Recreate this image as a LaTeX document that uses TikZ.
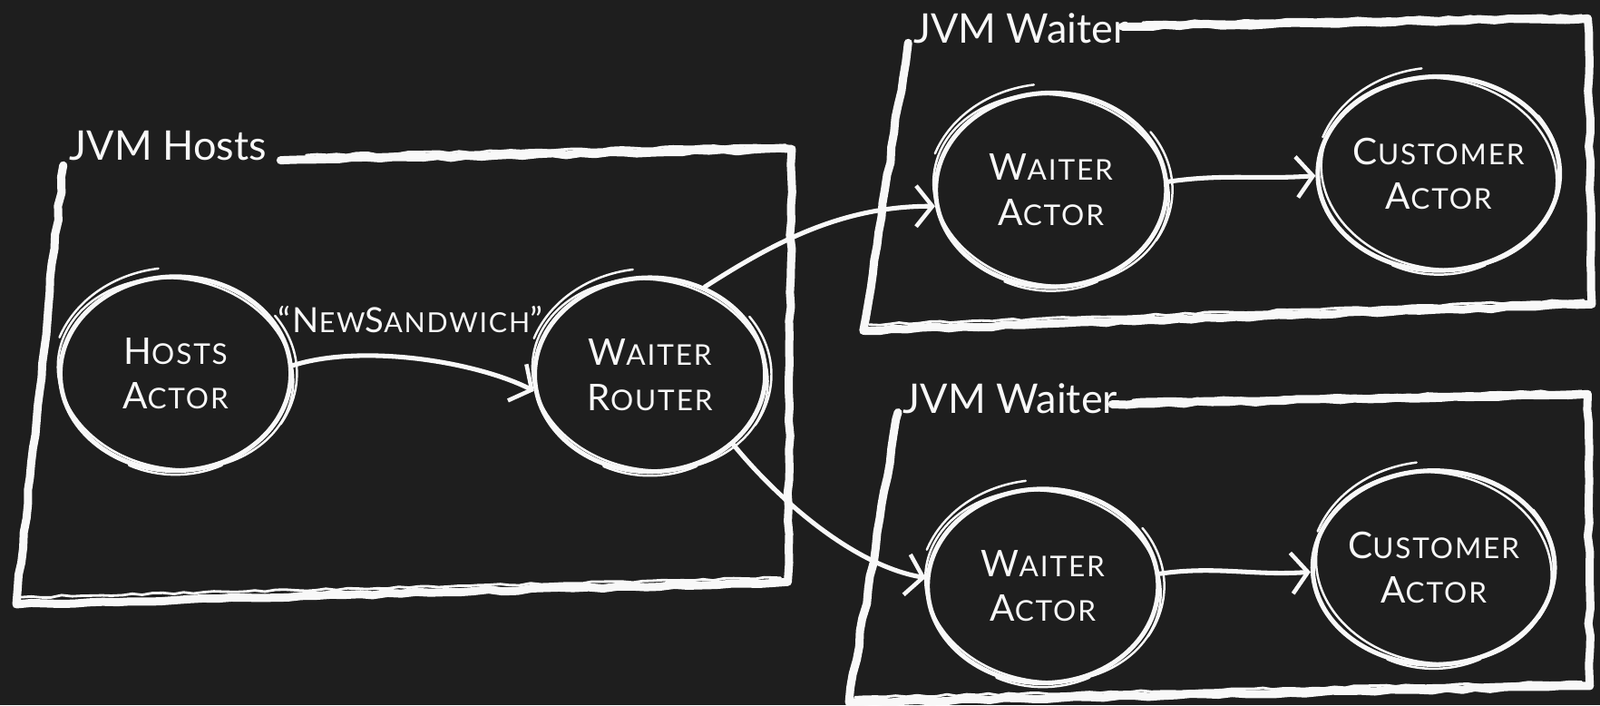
\documentclass[tikz,border=0pt]{standalone}
\usepackage{fontspec}
\setmainfont{Lato}
\newfontfamily\scfont[LetterSpace=6]{Lato}
\usetikzlibrary{shapes.geometric,arrows.meta,decorations.pathmorphing,calc}
\definecolor{board}{RGB}{30,30,30}
\definecolor{chalk}{RGB}{248,248,248}
\newcommand\Bc[1]{{\fontsize{36}{44}\selectfont #1}}
\newcommand\Sc[1]{{\fontsize{28}{44}\selectfont #1}}
\tikzset{
  chalkline/.style={draw=chalk, line width=4.5pt, line cap=round, line join=round},
  actor/.style={ellipse, draw=chalk, line width=4.5pt, minimum width=226pt, minimum height=190pt,
    inner sep=0pt, align=center, text=chalk, font=\scfont\fontsize{36}{44}\selectfont},
  jvmbox/.style={draw=chalk, line width=8pt, line cap=round, line join=round,
    decorate, decoration={random steps, segment length=14pt, amplitude=1.2pt}},
  jvmthin/.style={draw=chalk, line width=2.5pt, line cap=round,
    decorate, decoration={random steps, segment length=10pt, amplitude=1pt}},
  boxlabel/.style={anchor=base west, text=chalk, font=\fontsize{40}{48}\selectfont, inner sep=0pt},
  msg/.style={chalkline, -{Straight Barb[length=16pt,width=40pt,line width=4pt]}},
  sketch/.style={draw=chalk, line width=2.2pt, line cap=round},
}
\begin{document}
\begin{tikzpicture}[x=1pt,y=-1pt]
\fill[board] (0,0) rectangle (1568,691);
\useasboundingbox (0,0) rectangle (1568,691);

% JVM boxes
\draw[jvmbox] (275,157) -- (776,146) -- (772,570) -- (16,592) -- (62,162);
\draw[jvmthin] (300,152) -- (770,142);
\draw[jvmthin] (20,585) -- (765,566);
\draw[jvmbox] (1100,26) -- (1556,18) -- (1560,298) -- (846,324) -- (890,42);
\draw[jvmthin] (1120,22) -- (1550,15);
\draw[jvmthin] (852,318) -- (1552,294);
\draw[jvmbox] (1090,396) -- (1556,386) -- (1558,672) -- (832,688) -- (880,404);
\draw[jvmthin] (1110,392) -- (1550,383);
\draw[jvmthin] (838,683) -- (1550,668);

\node[boxlabel] (lhosts) at (68,157) {JVM Hosts};
\node[boxlabel] (lw1) at (895,42) {JVM Waiter};
\node[boxlabel] (lw2) at (885,405) {JVM Waiter};

% actors
\node[actor] (ha) at (172,366) {\Bc{H}\Sc{OSTS}\\\Bc{A}\Sc{CTOR}};
\node[actor] (wr) at (637,367) {\Bc{W}\Sc{AITER}\\\Bc{R}\Sc{OUTER}};
\node[actor] (wa1) at (1030,186) {\Bc{W}\Sc{AITER}\\\Bc{A}\Sc{CTOR}};
\node[actor] (ca1) at (1410,170) {\Bc{C}\Sc{USTOMER}\\\Bc{A}\Sc{CTOR}};
\node[actor] (wa2) at (1022,574) {\Bc{W}\Sc{AITER}\\\Bc{A}\Sc{CTOR}};
\node[actor] (ca2) at (1405,556) {\Bc{C}\Sc{USTOMER}\\\Bc{A}\Sc{CTOR}};

\foreach \n in {ha,wr,wa1,ca1,wa2,ca2}{
  \draw[sketch, rotate around={-10:(\n.center)}] (\n.center) ellipse [x radius=116, y radius=93];
  \draw[sketch] (\n.center) ++(200:121 and 104) arc[start angle=200, end angle=262, x radius=121, y radius=104];
  \draw[sketch] (\n.center) ++(-35:119 and 99) arc[start angle=-35, end angle=30, x radius=119, y radius=99];
  \draw[sketch] (\n.center) ++(65:108 and 99) arc[start angle=65, end angle=115, x radius=108, y radius=99];
}

% message label
\node[text=chalk, font=\scfont, inner sep=0pt] (lbl) at (402,313)
  {{\fontsize{34}{40}\selectfont “N}{\fontsize{27}{40}\selectfont EW}{\fontsize{34}{40}\selectfont S}{\fontsize{27}{40}\selectfont ANDWICH}{\fontsize{34}{40}\selectfont ”}};

% messages
\draw[msg] (ha.4) .. controls +(70,-22) and +(-55,-28) .. (wr.188);
\draw[msg] (wr.58) .. controls +(70,-45) and +(-90,0) .. (wa1.188);
\draw[msg] (wr.-40) .. controls +(45,55) and +(-70,-12) .. (wa2.176);
\draw[msg] (wa1.4) .. controls +(55,-8) and +(-55,4) .. (ca1.181);
\draw[msg] (wa2.6) .. controls +(55,-8) and +(-55,4) .. (ca2.182);
\end{tikzpicture}
\end{document}
